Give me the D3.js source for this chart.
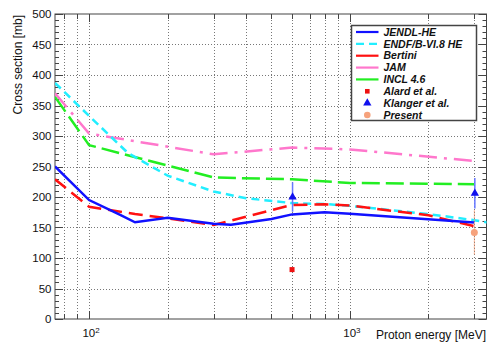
<!DOCTYPE html>
<html>
<head>
<meta charset="utf-8">
<script src="https://cdn.jsdelivr.net/npm/d3@7"></script>
<style>
  body { margin: 0; background: #fff; }
  text { font-family: "Liberation Sans", Arial, Helvetica, sans-serif; }
</style>
</head>
<body>
<svg id="chart" width="487" height="344"></svg>
<script>
// values (energy in MeV, cross section in mb)
const jendlE  = [74, 100, 131, 150, 200, 300, 350, 500, 600, 800, 1000, 3000];
const jendlXS = [250, 195, 171, 158.5, 166, 156, 154.5, 164, 171.5, 175, 172.5, 158];

const endfE  = [74, 100, 141, 200, 300, 400, 600, 800, 1000, 2000, 3000, 3500];
const endfXS = [387, 333, 272, 235, 209, 198, 190, 188.5, 185.5, 172, 162, 157];

const bertiniE  = [74, 100, 150, 200, 300, 600, 800, 1000, 2000, 3000];
const bertiniXS = [229, 184, 172, 165, 154, 187, 188, 186, 170, 152];

const jamE  = [74, 100, 300, 600, 1000, 3000];
const jamXS = [370, 304, 270, 281, 278, 259];

const inclE  = [74, 100, 300, 600, 1000, 3000];
const inclXS = [364, 285, 232, 229, 223, 221];

const alardE = [600];
const alardXS = [81];

const klangerE = [600, 3000];
const klangerXS = [200, 206];
const klangerErr = [24, 25];

const presentE = [3000];
const presentXS = [142];
const presentErr = [36];

const yTicks = [0, 50, 100, 150, 200, 250, 300, 350, 400, 450, 500];
const xGrid = [80, 90, 100, 200, 300, 400, 500, 600, 700, 800, 900, 1000, 2000, 3000];
const xDecades = [100, 1000];

const legendLabels = ["JENDL-HE", "ENDF/B-VI.8 HE", "Bertini", "JAM", "INCL 4.6",
                      "Alard et al.", "Klanger et al.", "Present"];

const svg = d3.select('#chart');
const pL = 55, pR = 486.5, pT = 14, pB = 319;

const x = d3.scaleLog().domain([74, 3340]).range([pL, pR]);
const y = d3.scaleLinear().domain([0, 500]).range([pB, pT]);

svg.append('rect').attr('width', 487).attr('height', 344).attr('fill', '#fff');

// grid
let grid = svg.append('g').attr('stroke', '#777').attr('stroke-dasharray', '1 2').attr('stroke-width', 1);
grid.selectAll('.gy').data(yTicks.slice(1, -1)).enter().append('line')
  .attr('x1', pL).attr('x2', pR)
  .attr('y1', d => Math.round(y(d)) + 0.5).attr('y2', d => Math.round(y(d)) + 0.5);
grid.selectAll('.gx').data(xGrid).enter().append('line')
  .attr('y1', pT).attr('y2', pB)
  .attr('x1', d => Math.round(x(d)) + 0.5).attr('x2', d => Math.round(x(d)) + 0.5);

// ticks, mirrored on all four sides
let ticks = svg.append('g').attr('stroke', '#444').attr('stroke-width', 1);
let yMinor = d3.range(0, 501, 10);
ticks.selectAll('.ty').data(yMinor).enter().append('path')
  .attr('d', d => {
    let len = d % 50 === 0 ? 8 : 4;
    let yy = Math.round(y(d)) + 0.5;
    return 'M' + pL + ',' + yy + 'h' + len + 'M' + pR + ',' + yy + 'h' + (-len);
  });
ticks.selectAll('.tx').data(xGrid).enter().append('path')
  .attr('d', d => {
    let len = xDecades.indexOf(d) >= 0 ? 8 : 5;
    let xx = Math.round(x(d)) + 0.5;
    return 'M' + xx + ',' + pB + 'v' + (-len) + 'M' + xx + ',' + pT + 'v' + len;
  });

// frame
svg.append('rect').attr('x', pL).attr('y', pT)
  .attr('width', pR - pL).attr('height', pB - pT)
  .attr('fill', 'none').attr('stroke', '#444').attr('stroke-width', 1);

// tick labels
svg.append('g').selectAll('text').data(yTicks).enter().append('text')
  .attr('x', 51.5).attr('y', d => y(d)).attr('dy', '0.36em')
  .attr('text-anchor', 'end').attr('font-size', 11.5).attr('fill', '#111')
  .text(d => d);

let xl = svg.append('g').selectAll('text').data(xDecades).enter().append('text')
  .attr('x', d => x(d) + 2).attr('y', 337)
  .attr('text-anchor', 'middle').attr('font-size', 11.5).attr('fill', '#111');
xl.append('tspan').text('10');
xl.append('tspan').attr('dy', -4).attr('font-size', 8).text(d => Math.log10(d));

// axis titles
svg.append('text').attr('transform', 'translate(22,15) rotate(-90)')
  .attr('text-anchor', 'end').attr('font-size', 12).attr('fill', '#111')
  .text('Cross section [mb]');
svg.append('text').attr('x', 486).attr('y', 339)
  .attr('text-anchor', 'end').attr('font-size', 12).attr('fill', '#111')
  .text('Proton energy [MeV]');

// curves
svg.append('clipPath').attr('id', 'frame').append('rect')
  .attr('x', pL).attr('y', pT).attr('width', pR - pL).attr('height', pB - pT);
let plot = svg.append('g').attr('clip-path', 'url(#frame)');

let line = d3.line().x(d => x(d[0])).y(d => y(d[1]));
let series = [
  {e: inclE, v: inclXS, color: '#22ee22', dash: '18 6'},
  {e: jamE, v: jamXS, color: '#ff77cc', dash: '18 7 3 7'},
  {e: endfE, v: endfXS, color: '#22eeff', dash: '8 5'},
  {e: bertiniE, v: bertiniXS, color: '#ff1111', dash: '14 7'},
  {e: jendlE, v: jendlXS, color: '#1111ff', dash: null}
];
series.forEach(function(s) {
  plot.append('path')
    .datum(d3.zip(s.e, s.v))
    .attr('d', line)
    .attr('fill', 'none')
    .attr('stroke', s.color)
    .attr('stroke-width', 2.5)
    .attr('stroke-dasharray', s.dash);
});

// measured points
plot.selectAll('.klErr').data(d3.zip(klangerE, klangerXS, klangerErr)).enter().append('line')
  .attr('x1', d => x(d[0]) + 0.5).attr('x2', d => x(d[0]) + 0.5)
  .attr('y1', d => y(d[1] - d[2])).attr('y2', d => y(d[1] + d[2]))
  .attr('stroke', '#6677ff').attr('stroke-width', 1.5);
plot.selectAll('.prErr').data(d3.zip(presentE, presentXS, presentErr)).enter().append('line')
  .attr('x1', d => x(d[0])).attr('x2', d => x(d[0]))
  .attr('y1', d => y(d[1] - d[2])).attr('y2', d => y(d[1] + d[2]))
  .attr('stroke', '#f6a27c').attr('stroke-width', 1).attr('stroke-dasharray', '2 1');

let tri = d3.symbol().type(d3.symbolTriangle).size(30);
plot.selectAll('.kl').data(d3.zip(klangerE, klangerXS)).enter().append('path')
  .attr('d', tri)
  .attr('transform', d => 'translate(' + (x(d[0]) + 0.5) + ',' + y(d[1]) + ')')
  .attr('fill', '#1111ee');
plot.selectAll('.al').data(d3.zip(alardE, alardXS)).enter().append('rect')
  .attr('x', d => x(d[0]) - 2.5).attr('y', d => y(d[1]) - 2.5)
  .attr('width', 5).attr('height', 5).attr('fill', '#ee1111');
plot.selectAll('.pr').data(d3.zip(presentE, presentXS)).enter().append('circle')
  .attr('cx', d => x(d[0])).attr('cy', d => y(d[1])).attr('r', 3.5)
  .attr('fill', '#f6a27c');

// legend
let lg = svg.append('g');
lg.append('rect').attr('x', 351.5).attr('y', 25.5).attr('width', 125).attr('height', 95)
  .attr('fill', '#fff').attr('stroke', '#444').attr('stroke-width', 1.5);
let rowY = d3.scaleLinear().domain([0, 7]).range([32, 115]);
let lineEntries = [
  {color: '#1111ff', dash: null},
  {color: '#22eeff', dash: '8 5'},
  {color: '#ff1111', dash: null},
  {color: '#ff77cc', dash: null},
  {color: '#22ee22', dash: null}
];
lineEntries.forEach(function(s, i) {
  lg.append('line').attr('x1', 356).attr('x2', 378.5)
    .attr('y1', rowY(i)).attr('y2', rowY(i))
    .attr('stroke', s.color).attr('stroke-width', 2.2).attr('stroke-dasharray', s.dash);
});
lg.append('rect').attr('x', 365).attr('y', rowY(5) - 2.3).attr('width', 4.6).attr('height', 4.6).attr('fill', '#ee1111');
lg.append('path').attr('d', tri).attr('transform', 'translate(367.3,' + rowY(6) + ')').attr('fill', '#1111ee');
lg.append('circle').attr('cx', 367.3).attr('cy', rowY(7)).attr('r', 3.3).attr('fill', '#f6a27c');
lg.selectAll('.lt').data(legendLabels).enter().append('text')
  .attr('x', 383.5).attr('y', (d, i) => rowY(i)).attr('dy', '0.36em')
  .attr('font-size', 10.5).attr('font-weight', 'bold').attr('font-style', 'italic')
  .attr('fill', '#111')
  .text(d => d);
</script>
</body>
</html>
